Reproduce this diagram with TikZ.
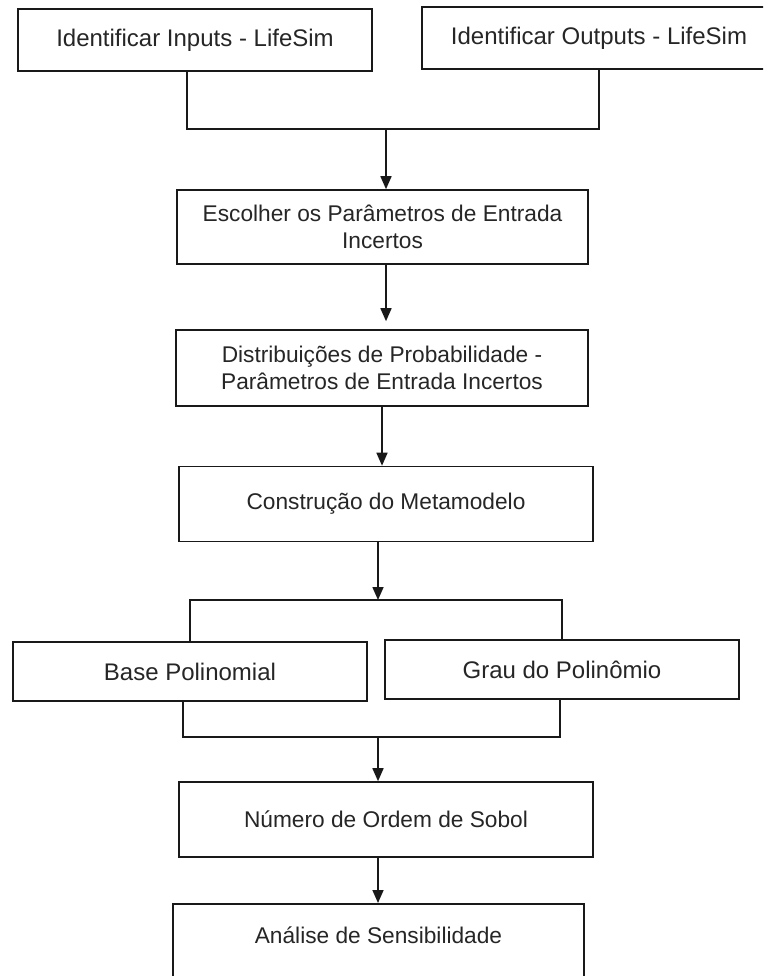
\documentclass[tikz,border=0pt]{standalone}
\usepackage{fontspec}
\setmainfont{Liberation Sans}
\usetikzlibrary{arrows.meta}
\begin{document}
\begin{tikzpicture}[x=1pt,y=-1pt,
  box/.style={draw=black!90, line width=1.6pt, rectangle, inner sep=0pt,
    align=center, text=black!85, font=\fontsize{22.7}{27}\selectfont},
  bigtext/.style={font=\fontsize{24}{29}\selectfont},
  link/.style={draw=black!90, line width=1.6pt},
  arr/.style={link, -{Triangle[width=11pt,length=13pt]}}]
\useasboundingbox (0,0) rectangle (763,976);
\clip (0,0) rectangle (763,976);
\fill[white] (0,0) rectangle (763,976);

% process boxes
\node[box,bigtext,minimum width=354pt,minimum height=62pt] (b1) at (195,40) {Identificar Inputs - LifeSim};
\node[box,bigtext,minimum width=354pt,minimum height=62pt] (b2) at (599,38) {Identificar Outputs - LifeSim};
\node[box,minimum width=411pt,minimum height=74pt] (b3) at (382.5,227) {Escolher os Parâmetros de Entrada\\Incertos};
\node[box,minimum width=412pt,minimum height=76pt] (b4) at (382,368) {Distribuições de Probabilidade -\\Parâmetros de Entrada Incertos};
\node[box,minimum width=414pt,minimum height=75pt] (b5) at (386,504) {Construção do Metamodelo};
\node[box,bigtext,minimum width=354pt,minimum height=59pt] (b6) at (190,671.5) {Base Polinomial};
\node[box,bigtext,minimum width=354pt,minimum height=59pt] (b7) at (562,669.5) {Grau do Polinômio};
\node[box,minimum width=414pt,minimum height=75pt] (b8) at (386,819.5) {Número de Ordem de Sobol};
\node[box,minimum width=411pt,anchor=north,text height=16pt,text depth=40pt,inner ysep=24pt] (b9) at (378.5,903) {Análise de Sensibilidade};

% junction points
\coordinate (k1) at (187,129);
\coordinate (k2) at (599,129);
\coordinate (m1) at (386,129);
\coordinate (m2) at (378,600);
\coordinate (t6) at (190,600);
\coordinate (t7) at (562,600);
\coordinate (u6) at (183,737);
\coordinate (u7) at (560,737);
\coordinate (m3) at (378,737);

% top merge
\draw[link] (b1.south -| k1) -- (k1) -- (k2) -- (b2.south -| k2);
\draw[arr] (m1) -- (b3.north -| m1);
\draw[arr] (b3.south -| m1) -- ([yshift=8pt]b4.north -| m1);
\draw[arr] (b4.south) -- (b5.north -| b4.south);
\draw[arr] (b5.south -| m2) -- (m2);

% split into the two polynomial choices
\draw[link] (b6.north -| t6) -- (t6) -- (t7) -- (b7.north -| t7);
\draw[link] (b6.south -| u6) -- (u6) -- (u7) -- (b7.south -| u7);
\draw[arr] (m3) -- (b8.north -| m3);
\draw[arr] (b8.south -| m3) -- (b9.north -| m3);
\end{tikzpicture}
\end{document}
